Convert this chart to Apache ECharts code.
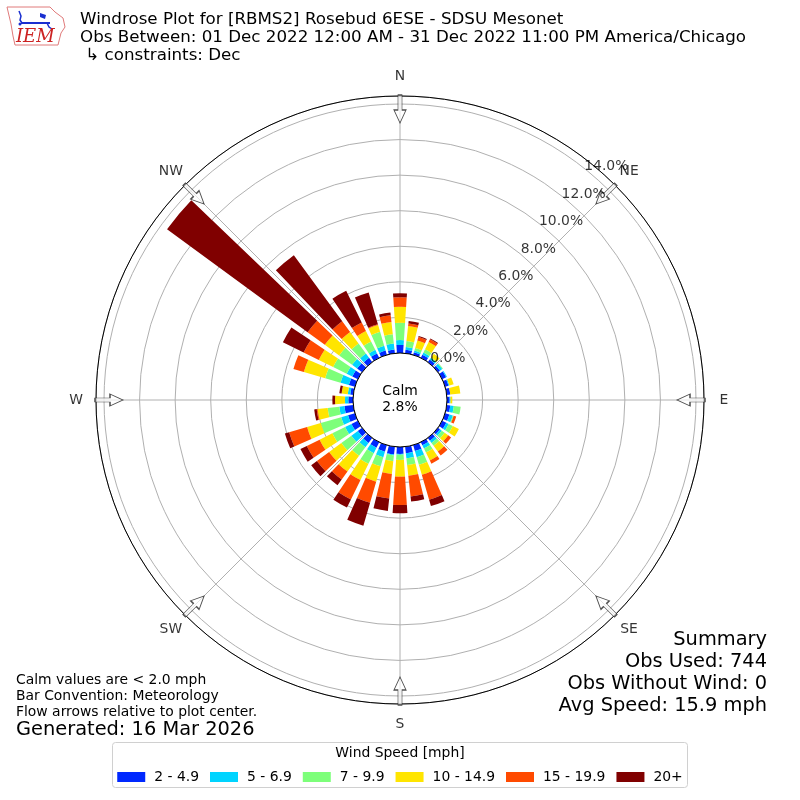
<!DOCTYPE html>
<html>
<head>
<meta charset="utf-8">
<title>Windrose Plot</title>
<script src="https://cdn.jsdelivr.net/npm/echarts@6.0.0/dist/echarts.min.js"></script>
<style>
    html, body { margin: 0; padding: 0; background: #fff; }
    #chart { width: 800px; height: 800px; }
</style>
</head>
<body>
<div id="chart"></div>
<script>
// direction bins, 10 deg wide, first one centred on north
const directions = ['0','10','20','30','40','50','60','70','80','90','100','110','120','130','140','150','160','170',
    '180','190','200','210','220','230','240','250','260','270','280','290','300','310','320','330','340','350'];

const speedBins = ['2 - 4.9', '5 - 6.9', '7 - 9.9', '10 - 14.9', '15 - 19.9', '20+'];
const binColors = ['#0028ff', '#00d4ff', '#7dff7a', '#ffe500', '#ff4a00', '#800000'];

// percent of observations, per direction (0..350)
const pct2to5 = [0.45,0.20,0.15,0.20,0.18,0.15,0.25,0.20,0.20,0.15,0.20,0.25,0.26,0.15,0.20,0.20,0.35,0.37,
    0.39,0.44,0.39,0.35,0.35,0.30,0.40,0.40,0.50,0.26,0.17,0.35,0.35,0.35,0.30,0.28,0.25,0.21];
const pct5to7 = [0.28,0.15,0.10,0.14,0.10,0.15,0.05,0.05,0,0.05,0.20,0.20,0.15,0.12,0.15,0.20,0.36,0.28,
    0.04,0.05,0.32,0.34,0.30,0.45,0.40,0.40,0.29,0.19,0.14,0.49,0.35,0.35,0.30,0.22,0.29,0.34];
const pct7to10 = [0.97,0.34,0.16,0.20,0.05,0.05,0,0,0,0,0.39,0.05,0.26,0.20,0.20,0.25,0.44,0.38,
    0.30,0.33,0.53,0.67,0.60,0.70,0.80,1.20,0.66,0,0,0.90,0.85,0.90,0.70,0.53,0.81,0.52];
const pct10to15 = [0.90,0.85,0.43,0.45,0.25,0,0,0.25,0.57,0.10,0,0,0.38,0.25,0.40,0.50,0.59,0.61,
    0.94,0.72,0.90,1.02,1.10,0.85,0.80,0.80,0.57,0.56,0.35,1.25,0.90,1.00,0.80,0.66,0.40,0.70];
const pct15to20 = [0.53,0.15,0.21,0.17,0,0,0,0,0,0,0,0.15,0,0.20,0.27,0.20,1.46,1.17,
    1.59,1.39,1.23,1.21,0.55,0.85,0.80,1.05,0.05,0,0,0.61,0.95,1.20,0.75,0.53,0.05,0.38];
const pct20plus = [0.23,0.14,0.05,0.05,0,0,0,0,0,0,0,0,0,0,0,0,0.37,0.29,
    0.46,0.70,1.35,0.51,0.40,0.40,0.40,0.25,0.14,0.15,0.13,0,1.30,9.80,4.60,1.98,1.85,0.15];

const calmPct = 2.8;
const radiusTicks = [0, 2, 4, 6, 8, 10, 12, 14];
const compassNames = ['N', 'NE', 'E', 'SE', 'S', 'SW', 'W', 'NW'];
const compassAngles = [0, 45, 90, 135, 180, 225, 270, 315];

const FONT = '"DejaVu Sans", sans-serif';
const SMALL = 13.9, TITLE = 16.7, BIG = 19.4;
const rMax = 14.45;           // radius axis top (outer circle)
const innerPx = 47, outerPx = 304;
const pxPerPct = (outerPx - innerPx) / rMax;

let chart = echarts.init(document.getElementById('chart'), null, {renderer: 'canvas'});

const binData = [pct2to5, pct5to7, pct7to10, pct10to15, pct15to20, pct20plus];
let barSeries = speedBins.map(function (name, i) {
    return {
        name: name,
        type: 'bar',
        coordinateSystem: 'polar',
        polarIndex: 0,
        stack: 'wind',
        barCategoryGap: '25%',
        itemStyle: {color: binColors[i]},
        data: binData[i],
        z: 2
    };
});

// arrows on the rim, pointing to the centre
let arrowData = compassAngles.map(function (a) {
    return {value: [(291 - innerPx) / pxPerPct, a], symbolRotate: -a};
});
let compassLabelData = compassAngles.map(function (a, i) {
    return {value: [(324 - innerPx) / pxPerPct, a], name: compassNames[i]};
});
let tickLabelData = radiusTicks.map(function (v) {
    return {value: [v, 39.5], name: v.toFixed(1) + '%'};
});

function txt(x, y, s, size, align) {
    return {type: 'text', style: {x: x, y: y, text: s, font: size + 'px ' + FONT, fill: '#000',
        align: align || 'left', verticalAlign: 'middle'}};
}

let option = {
    backgroundColor: '#fff',
    animation: false,
    textStyle: {fontFamily: FONT},
    polar: [
        {center: [400, 400], radius: [innerPx, outerPx]},
        {center: [400, 400], radius: [innerPx, outerPx]}
    ],
    angleAxis: [
        {
            polarIndex: 0, type: 'category', data: directions, startAngle: 95, clockwise: true,
            axisLine: {show: false}, axisTick: {show: false}, axisLabel: {show: false}, splitLine: {show: false}
        },
        {
            polarIndex: 1, type: 'value', min: 0, max: 360, interval: 45, startAngle: 90, clockwise: true,
            z: 1,
            axisLine: {show: true, lineStyle: {color: '#000', width: 1}},
            axisTick: {show: false}, axisLabel: {show: false},
            splitLine: {show: true, lineStyle: {color: '#b0b0b0', width: 1}}
        }
    ],
    radiusAxis: [
        {
            polarIndex: 0, type: 'value', min: 0, max: rMax, interval: 2, z: 0,
            axisLine: {show: false}, axisTick: {show: false}, axisLabel: {show: false},
            splitLine: {show: true, lineStyle: {color: '#b0b0b0', width: 1}}
        },
        {
            polarIndex: 1, type: 'value', min: 0, max: rMax,
            axisLine: {show: false}, axisTick: {show: false}, axisLabel: {show: false},
            splitLine: {show: false}
        }
    ],
    legend: {
        data: speedBins,
        left: 'center',
        top: 765,
        icon: 'rect',
        itemWidth: 28,
        itemHeight: 10,
        itemGap: 11,
        selectedMode: false,
        textStyle: {fontFamily: FONT, fontSize: SMALL, color: '#000', padding: [0, 0, 0, 4]}
    },
    series: barSeries.concat([
        {
            type: 'scatter', coordinateSystem: 'polar', polarIndex: 1, clip: false, silent: true, z: 5,
            symbol: 'path://M4,0L8,0L8,15L12,15L6,28L0,15L4,15Z',
            symbolSize: [12, 28],
            itemStyle: {color: 'rgba(255,255,255,0.85)', borderColor: '#222', borderWidth: 1},
            data: arrowData
        },
        {
            type: 'scatter', coordinateSystem: 'polar', polarIndex: 1, clip: false, silent: true, z: 5,
            symbolSize: 0,
            label: {show: true, position: 'inside', formatter: '{b}', color: '#000', fontSize: SMALL, fontFamily: FONT},
            data: compassLabelData
        },
        {
            type: 'scatter', coordinateSystem: 'polar', polarIndex: 1, clip: false, silent: true, z: 6,
            symbolSize: 0,
            label: {show: true, position: 'inside', offset: [18, -5], formatter: '{b}',
                color: '#000', fontSize: SMALL, fontFamily: FONT},
            data: tickLabelData
        }
    ]),
    graphic: [
        // calm circle
        {type: 'circle', z: 100, shape: {cx: 400, cy: 400, r: innerPx},
            style: {fill: '#fff', stroke: '#000', lineWidth: 1}},
        {type: 'text', z: 101, style: {x: 400, y: 399, text: 'Calm\n' + calmPct.toFixed(1) + '%',
            font: SMALL + 'px ' + FONT, fill: '#000', align: 'center', verticalAlign: 'middle', lineHeight: 16}},

        // IEM logo (rough)
        {type: 'polyline', z: 10, shape: {points: [[7,7],[50,7],[55,12],[63,18],[65,27],[61,33],[58,45],[15,45],[13,36],[11,24],[7,7]]},
            style: {stroke: '#e07a7a', lineWidth: 1, fill: null}},
        {type: 'polyline', z: 11, shape: {points: [[19,11],[21,16],[20,20],[22,23]]},
            style: {stroke: '#1a2fd0', lineWidth: 1.5, fill: null}},
        {type: 'line', z: 11, shape: {x1: 21, y1: 23, x2: 50, y2: 23}, style: {stroke: '#1a2fd0', lineWidth: 2}},
        {type: 'polygon', z: 11, shape: {points: [[40,13],[46,15],[45,19],[40,17]]}, style: {fill: '#1a2fd0'}},
        {type: 'polyline', z: 11, shape: {points: [[47,23],[49,27],[52,29]]}, style: {stroke: '#1a2fd0', lineWidth: 1.5, fill: null}},
        {type: 'circle', z: 11, shape: {cx: 20, cy: 24, r: 1.5}, style: {fill: '#1a2fd0'}},
        {type: 'text', z: 12, style: {x: 16, y: 37, text: 'IEM', font: 'italic 18px "DejaVu Serif", serif',
            fill: '#cc2222', verticalAlign: 'middle'}},

        // title block
        txt(80, 20, 'Windrose Plot for [RBMS2] Rosebud 6ESE - SDSU Mesonet', TITLE),
        txt(80, 38, 'Obs Between: 01 Dec 2022 12:00 AM - 31 Dec 2022 11:00 PM America/Chicago', TITLE),
        txt(80, 56, ' \u21b3 constraints: Dec', TITLE),

        // notes, lower left
        txt(16, 680, 'Calm values are < 2.0 mph', SMALL),
        txt(16, 696, 'Bar Convention: Meteorology', SMALL),
        txt(16, 712, 'Flow arrows relative to plot center.', SMALL),
        txt(16, 730, 'Generated: 16 Mar 2026', BIG),

        // summary, lower right
        txt(767, 640, 'Summary', BIG, 'right'),
        txt(767, 662, 'Obs Used: 744', BIG, 'right'),
        txt(767, 684, 'Obs Without Wind: 0', BIG, 'right'),
        txt(767, 706, 'Avg Speed: 15.9 mph', BIG, 'right'),

        // legend frame + title
        {type: 'rect', z: -1, shape: {x: 112.5, y: 742.5, width: 575, height: 45, r: 3},
            style: {fill: '#fff', stroke: '#d0d0d0', lineWidth: 1}},
        txt(400, 753, 'Wind Speed [mph]', SMALL, 'center')
    ]
};

chart.setOption(option);
</script>
</body>
</html>
